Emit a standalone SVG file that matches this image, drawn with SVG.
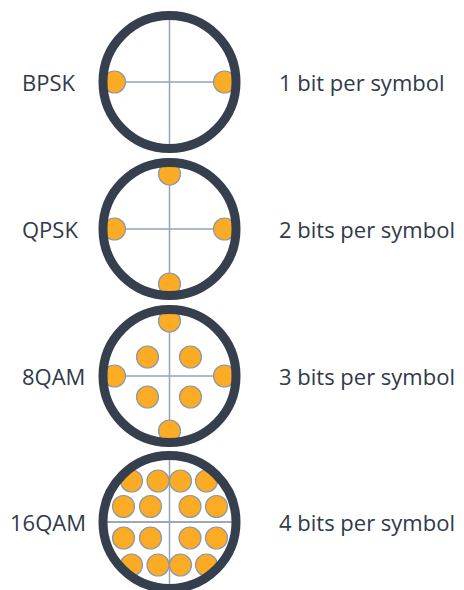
<svg xmlns="http://www.w3.org/2000/svg" width="464" height="590" viewBox="0 0 464 590">
  <style>
    .axis { stroke: #96a2b7; stroke-width: 1.5; fill: none; }
    .dot { fill: #fbab24; stroke: #8c98aa; stroke-width: 1.2; }
    .ring { fill: none; stroke: #353f4e; stroke-width: 9; }
    .label { font-family: "Open Sans", "Liberation Sans", sans-serif; font-size: 22px; fill: #2f3a4a; }
  </style>
  <defs>
    <g id="axes">
      <line class="axis" x1="-64" y1="0" x2="64" y2="0"/>
      <line class="axis" x1="0" y1="-64" x2="0" y2="64"/>
    </g>
  </defs>

  <!-- BPSK: two points on the in-phase axis -->
  <g id="bpsk" transform="translate(169.5 82)">
    <use href="#axes"/>
    <circle class="dot" cx="-55" cy="0" r="11"/>
    <circle class="dot" cx="55" cy="0" r="11"/>
    <circle class="ring" cx="0" cy="0" r="66.5"/>
  </g>
  <text class="label" x="22" y="91">BPSK</text>
  <text class="label" x="279" y="91">1 bit per symbol</text>

  <!-- QPSK: four points on the axes -->
  <g id="qpsk" transform="translate(169.5 229)">
    <use href="#axes"/>
    <circle class="dot" cx="-55" cy="0" r="11"/>
    <circle class="dot" cx="55" cy="0" r="11"/>
    <circle class="dot" cx="0" cy="-55" r="11"/>
    <circle class="dot" cx="0" cy="55" r="11"/>
    <circle class="ring" cx="0" cy="0" r="66.5"/>
  </g>
  <text class="label" x="22" y="238">QPSK</text>
  <text class="label" x="279" y="238">2 bits per symbol</text>

  <!-- 8QAM: four outer points plus an inner square -->
  <g id="qam8" transform="translate(169.5 376)">
    <use href="#axes"/>
    <circle class="dot" cx="-55" cy="0" r="11"/>
    <circle class="dot" cx="55" cy="0" r="11"/>
    <circle class="dot" cx="0" cy="-55" r="11"/>
    <circle class="dot" cx="0" cy="55" r="11"/>
    <circle class="dot" cx="-22" cy="-19" r="11"/>
    <circle class="dot" cx="21" cy="-19" r="11"/>
    <circle class="dot" cx="-22" cy="21" r="11"/>
    <circle class="dot" cx="21" cy="21" r="11"/>
    <circle class="ring" cx="0" cy="0" r="66.5"/>
  </g>
  <text class="label" x="22" y="385">8QAM</text>
  <text class="label" x="279" y="385">3 bits per symbol</text>

  <!-- 16QAM: 4x4 grid of points -->
  <g id="qam16" transform="translate(169.5 522)">
    <use href="#axes"/>
    <line class="axis" x1="-64" y1="0" x2="64" y2="0" stroke-width="2.5"/>
    <circle class="dot" cx="-38" cy="-41" r="11"/>
    <circle class="dot" cx="-11.5" cy="-41" r="11"/>
    <circle class="dot" cx="11" cy="-41" r="11"/>
    <circle class="dot" cx="37" cy="-41" r="11"/>
    <circle class="dot" cx="-46" cy="-15.5" r="11"/>
    <circle class="dot" cx="-19" cy="-15.5" r="11"/>
    <circle class="dot" cx="20.5" cy="-15.5" r="11"/>
    <circle class="dot" cx="47" cy="-15.5" r="11"/>
    <circle class="dot" cx="-46" cy="16" r="11"/>
    <circle class="dot" cx="-19" cy="16" r="11"/>
    <circle class="dot" cx="20.5" cy="16" r="11"/>
    <circle class="dot" cx="47" cy="16" r="11"/>
    <circle class="dot" cx="-38" cy="43" r="11"/>
    <circle class="dot" cx="-11.5" cy="43" r="11"/>
    <circle class="dot" cx="11" cy="43" r="11"/>
    <circle class="dot" cx="37" cy="43" r="11"/>
    <circle class="ring" cx="0" cy="0" r="66.5"/>
  </g>
  <text class="label" x="10" y="531">16QAM</text>
  <text class="label" x="279" y="531">4 bits per symbol</text>
</svg>
